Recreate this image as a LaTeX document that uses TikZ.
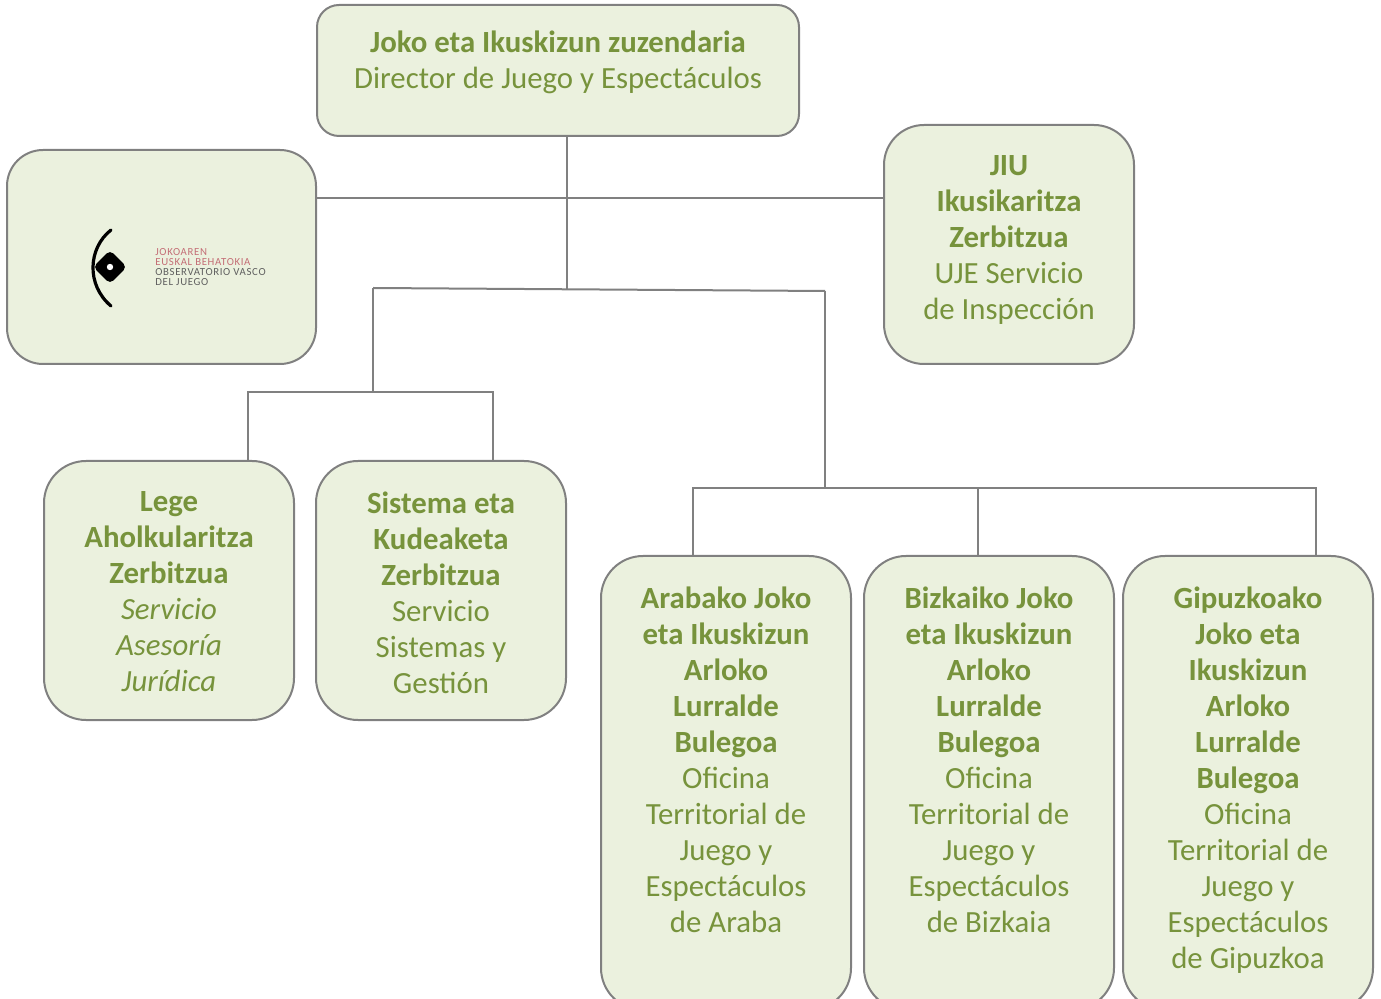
\documentclass[tikz,border=0pt]{standalone}
\usepackage{fontspec}
\setmainfont{Carlito}
\usetikzlibrary{positioning}
\definecolor{boxfill}{RGB}{235,241,222}
\definecolor{boxtext}{RGB}{119,147,60}
\definecolor{boxline}{RGB}{128,128,128}
\definecolor{logored}{RGB}{196,110,118}
\definecolor{logogray}{RGB}{95,95,95}
\tikzstyle{block} = [rectangle, draw=boxline, fill=boxfill, line width=1pt, inner sep=0pt]
\tikzstyle{block_txt} = [align=center, text=boxtext, font=\fontsize{15.4}{18}\selectfont, anchor=north, inner sep=0pt, yshift=-15.5pt]
\tikzstyle{wire} = [draw=boxline, line width=1pt]

\begin{document}
\begin{tikzpicture}[x=0.5pt, y=-0.5pt]
    \useasboundingbox (0,0) rectangle (1381,999);
    % boxes
    \node (top) [block, minimum width=241pt, minimum height=65.5pt, rounded corners=11pt] at (558,70.5) {};
    \node (logo) [block, minimum width=154.5pt, minimum height=107pt, rounded corners=18pt] at (161.5,257) {};
    \node (jiu) [block, minimum width=125pt, minimum height=119.5pt, rounded corners=20pt] at (1009,244.5) {};
    \node (lege) [block, minimum width=125pt, minimum height=129.5pt, rounded corners=21pt] at (169,590.5) {};
    \node (sis) [block, minimum width=125pt, minimum height=129.5pt, rounded corners=21pt] at (441,590.5) {};
    \node (ara) [block, minimum width=125pt, minimum height=227pt, rounded corners=21pt] at (726,783) {};
    \node (biz) [block, minimum width=125pt, minimum height=227pt, rounded corners=21pt] at (989,783) {};
    \node (gip) [block, minimum width=125pt, minimum height=227pt, rounded corners=21pt] at (1248,783) {};

    % texts
    \node (top_txt) [block_txt, yshift=2.5pt] at (top.north) {\textbf{Joko eta Ikuskizun zuzendaria}\\Director de Juego y Espectáculos};
    \node (jiu_txt) [block_txt] at (jiu.north) {\textbf{JIU}\\\textbf{Ikusikaritza}\\\textbf{Zerbitzua}\\UJE Servicio\\de Inspección};
    \node (lege_txt) [block_txt] at (lege.north) {\textbf{Lege}\\\textbf{Aholkularitza}\\\textbf{Zerbitzua}\\\textit{Servicio}\\\textit{Asesoría}\\\textit{Jurídica}};
    \node (sis_txt) [block_txt] at (sis.north) {\textbf{Sistema eta}\\\textbf{Kudeaketa}\\\textbf{Zerbitzua}\\Servicio\\Sistemas y\\Gestión};
    \node (ara_txt) [block_txt] at (ara.north) {\textbf{Arabako Joko}\\\textbf{eta Ikuskizun}\\\textbf{Arloko}\\\textbf{Lurralde}\\\textbf{Bulegoa}\\Oficina\\Territorial de\\Juego y\\Espectáculos\\de Araba};
    \node (biz_txt) [block_txt] at (biz.north) {\textbf{Bizkaiko Joko}\\\textbf{eta Ikuskizun}\\\textbf{Arloko}\\\textbf{Lurralde}\\\textbf{Bulegoa}\\Oficina\\Territorial de\\Juego y\\Espectáculos\\de Bizkaia};
    \node (gip_txt) [block_txt] at (gip.north) {\textbf{Gipuzkoako}\\\textbf{Joko eta}\\\textbf{Ikuskizun}\\\textbf{Arloko}\\\textbf{Lurralde}\\\textbf{Bulegoa}\\Oficina\\Territorial de\\Juego y\\Espectáculos\\de Gipuzkoa};

    % logo
    \draw [line width=1.6pt, line cap=round] (111,230) .. controls (88,248) and (86,285) .. (111,306);
    \node (mark) [fill=black, rounded corners=2.5pt, rotate=45, minimum size=12pt, inner sep=0pt] at (110,267) {};
    \fill [white] (mark.center) circle (1.6pt);
    \node (logo_txt) [anchor=north west, align=left, inner sep=0pt, font=\fontsize{5.4}{5}\selectfont\addfontfeature{LetterSpace=6}] at (155,248)
        {\textcolor{logored}{JOKOAREN}\\\textcolor{logored}{EUSKAL BEHATOKIA}\\\textcolor{logogray}{OBSERVATORIO VASCO}\\\textcolor{logogray}{DEL JUEGO}};

    % connectors
    \coordinate (trunk) at (567,290);
    \coordinate (cross) at (567,198);
    \coordinate (busL) at (373,288);
    \coordinate (busR) at (825,291);
    \coordinate (legeTap) at (248,392);
    \coordinate (sisTap) at (493,392);
    \coordinate (araTap) at (693,488);
    \coordinate (bizTap) at (978,488);
    \coordinate (gipTap) at (1316,488);
    \draw [wire] (trunk |- top.south) -- (trunk);
    \draw [wire] (logo.east |- cross) -- (jiu.west |- cross);
    \draw [wire] (busL) -- (busR);
    \draw [wire] (busL) -- (busL |- legeTap);
    \draw [wire] (legeTap |- lege.north) -- (legeTap) -- (sisTap) -- (sisTap |- sis.north);
    \draw [wire] (busR) -- (busR |- araTap);
    \draw [wire] (araTap |- ara.north) -- (araTap) -- (gipTap) -- (gipTap |- gip.north);
    \draw [wire] (bizTap) -- (bizTap |- biz.north);
\end{tikzpicture}
\end{document}
